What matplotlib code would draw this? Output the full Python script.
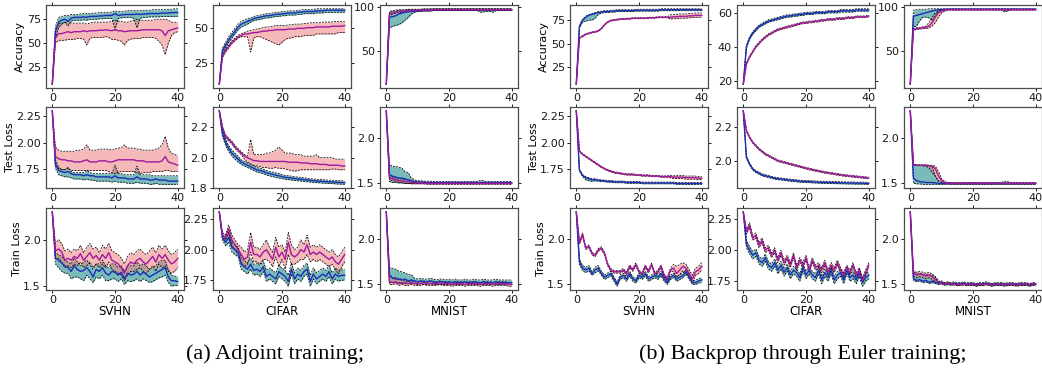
import matplotlib
matplotlib.use('Agg')
import matplotlib.pyplot as plt
from matplotlib.ticker import FormatStrFormatter

EPOCHS = list(range(41))

# ---------------- Adjoint training ----------------
# SVHN accuracy
A_SVHN_ACC_B = [7, 62, 72, 74, 75, 73, 76, 77, 77, 77, 77.5, 77, 78, 78, 78, 78.5, 78.5, 79, 79, 79, 81, 79, 79.5, 80, 80, 80, 80, 80.5, 80, 80.5, 80.5, 81, 81, 81, 81, 81.5, 81.5, 81.5, 82, 82, 82]
A_SVHN_ACC_B_LO = [7, 56, 66, 70, 72, 68, 73, 74, 74, 74, 74.5, 74, 75, 75, 75, 75.5, 75.5, 76, 76, 76, 64, 76, 76.5, 77, 77, 77, 76, 66, 76, 77, 77, 77.5, 77.5, 77.5, 77.5, 78, 78, 78, 78, 78, 78]
A_SVHN_ACC_B_HI = [7, 67, 77, 78, 79, 79, 80, 80, 80, 80.5, 81, 81, 81, 81.5, 81.5, 82, 82, 82, 82.5, 82.5, 84, 83, 83, 83.5, 84, 84, 84, 84, 84, 84.5, 84.5, 84.5, 85, 85, 85, 85, 85.5, 85.5, 85.5, 86, 86]
A_SVHN_ACC_M = [7, 55, 60, 60, 61, 62, 61, 62, 62, 62, 63, 62, 63, 63, 63, 63.5, 63.5, 64, 63.5, 63, 64, 63, 63, 62, 62.5, 63, 63, 63, 63.5, 64, 64, 64, 64, 64, 64, 63, 58, 63, 64, 65, 66]
A_SVHN_ACC_M_LO = [7, 50, 53, 53, 53, 54, 54, 54, 55, 55, 54, 48, 55, 56, 56, 56, 56, 57, 56, 54, 54, 53, 52, 48, 53, 54, 55, 55, 55, 56, 56, 56, 56, 55, 52, 48, 38, 50, 58, 61, 62]
A_SVHN_ACC_M_HI = [7, 62, 70, 71, 71, 73, 71, 71, 71, 71, 71, 70, 71, 72, 72, 72, 72, 72, 72, 73, 74, 73, 73, 72, 72, 73, 74, 75, 74, 74, 74, 74, 74, 75, 75, 75, 75, 74, 72, 72, 72]

# CIFAR accuracy
A_CIFAR_ACC_B = [10, 34, 38, 42, 45, 48, 51, 53, 54, 55, 56, 57, 57.5, 58, 58.5, 59, 59, 59.5, 60, 60, 60.5, 60.5, 61, 61, 61, 61.5, 61.5, 62, 62, 62, 62, 62.5, 62.5, 62.5, 63, 63, 63, 63, 63, 63, 63]
A_CIFAR_ACC_B_LO = [10, 32, 36, 40, 43, 46, 49, 51, 52, 53, 54.5, 55.5, 56, 56.5, 57, 57.5, 57.5, 58, 58.5, 58.5, 59, 59, 59.5, 59.5, 59.5, 60, 60, 60.5, 60.5, 60.5, 60.5, 61, 61, 61, 61.5, 61.5, 61.5, 61.5, 61.5, 61.5, 61.5]
A_CIFAR_ACC_B_HI = [10, 36, 40, 44, 47, 50, 53, 55, 56, 57, 57.5, 58.5, 59, 59.5, 60, 60.5, 60.5, 61, 61.5, 61.5, 62, 62, 62.5, 62.5, 62.5, 63, 63, 63.5, 63.5, 63.5, 63.5, 64, 64, 64, 64, 64, 64, 64, 64, 64, 64]
A_CIFAR_ACC_M = [10, 30, 34, 37, 40, 42, 44, 45, 46, 46, 46.5, 47, 47, 47.5, 48, 48, 48.5, 48.5, 49, 49, 49, 49, 49.5, 49.5, 49.5, 50, 50, 50, 50.5, 50.5, 50.5, 51, 51, 51, 51, 51, 51.5, 51.5, 51.5, 51.5, 52]
A_CIFAR_ACC_M_LO = [10, 29, 33, 36, 39, 41, 43, 44, 44, 44, 33, 43, 44, 44, 43, 42, 41, 40, 39, 38, 40, 42, 43, 43, 44, 44, 44, 45, 45, 45, 45, 46, 46, 46, 46, 46, 46, 46, 47, 47, 47]
A_CIFAR_ACC_M_HI = [10, 31, 35, 38, 41, 43, 45, 46, 47, 48, 48.5, 49, 49.5, 50, 50.5, 51, 51, 51.5, 52, 52, 52, 52, 52.5, 52.5, 53, 53, 53, 53.5, 53.5, 54, 54, 54, 54, 54.5, 54.5, 54.5, 54.5, 55, 55, 55, 55]

# MNIST accuracy
A_MNIST_ACC_B = [12, 88, 89, 90, 92, 93, 94, 94.5, 95, 95.5, 96, 96, 96.5, 96.5, 96.5] + [97.0] * 26
A_MNIST_ACC_B_LO = [12, 76, 78, 79, 80, 82, 85, 88, 92, 94, 95, 95, 95.5, 95.5, 95.5] + [96.0] * 15 + [94.0, 94.5, 95.0, 95.0, 94.0] + [96.0] * 6
A_MNIST_ACC_B_HI = [12, 95, 96, 96.5, 97, 97, 97, 97.5, 97.5, 97.5, 97.5, 97.5, 98, 98, 98] + [98.0] * 26
A_MNIST_ACC_M = [12, 92, 93, 94, 95, 95, 95.5, 96, 96, 96, 96, 96.5, 96.5, 96.5, 96.5] + [97.0] * 26
A_MNIST_ACC_M_LO = [12, 90, 92, 93, 94, 94, 94.5, 95, 95, 95, 95, 95.5, 95.5, 95.5, 95.5] + [96.0] * 26
A_MNIST_ACC_M_HI = [12, 94, 95, 95.5, 96, 96, 96.5, 97, 97, 97, 97, 97.5, 97.5, 97.5, 97.5] + [98.0] * 26

# SVHN test loss
A_SVHN_TEST_B = [2.30, 1.80, 1.74, 1.73, 1.72, 1.73, 1.71, 1.70, 1.70, 1.70, 1.69, 1.70, 1.69, 1.69, 1.68, 1.68, 1.68, 1.68, 1.68, 1.67, 1.69, 1.67, 1.67, 1.67, 1.66, 1.66, 1.66, 1.68, 1.66, 1.66, 1.66, 1.65, 1.65, 1.66, 1.65, 1.65, 1.65, 1.64, 1.64, 1.64, 1.64]
A_SVHN_TEST_B_LO = [2.30, 1.76, 1.70, 1.69, 1.68, 1.68, 1.67, 1.66, 1.66, 1.66, 1.65, 1.66, 1.65, 1.65, 1.64, 1.64, 1.64, 1.64, 1.64, 1.63, 1.64, 1.63, 1.63, 1.63, 1.62, 1.62, 1.62, 1.63, 1.62, 1.62, 1.62, 1.61, 1.61, 1.62, 1.61, 1.61, 1.61, 1.61, 1.61, 1.61, 1.61]
A_SVHN_TEST_B_HI = [2.30, 1.84, 1.77, 1.75, 1.74, 1.77, 1.73, 1.72, 1.72, 1.72, 1.72, 1.74, 1.72, 1.71, 1.71, 1.71, 1.71, 1.71, 1.71, 1.71, 1.79, 1.71, 1.71, 1.70, 1.70, 1.70, 1.70, 1.78, 1.70, 1.70, 1.70, 1.70, 1.69, 1.69, 1.69, 1.69, 1.69, 1.69, 1.69, 1.69, 1.69]
A_SVHN_TEST_M = [2.30, 1.87, 1.85, 1.84, 1.84, 1.83, 1.83, 1.82, 1.82, 1.82, 1.83, 1.84, 1.82, 1.82, 1.82, 1.83, 1.83, 1.83, 1.82, 1.82, 1.83, 1.84, 1.84, 1.84, 1.84, 1.84, 1.84, 1.83, 1.83, 1.83, 1.82, 1.82, 1.82, 1.82, 1.82, 1.83, 1.87, 1.82, 1.81, 1.80, 1.79]
A_SVHN_TEST_M_LO = [2.30, 1.78, 1.76, 1.75, 1.75, 1.76, 1.74, 1.74, 1.74, 1.74, 1.74, 1.74, 1.74, 1.74, 1.74, 1.74, 1.74, 1.74, 1.73, 1.72, 1.71, 1.72, 1.73, 1.73, 1.73, 1.73, 1.73, 1.72, 1.71, 1.72, 1.72, 1.72, 1.73, 1.73, 1.73, 1.73, 1.74, 1.74, 1.73, 1.73, 1.73]
A_SVHN_TEST_M_HI = [2.30, 1.96, 1.93, 1.92, 1.92, 1.92, 1.92, 1.92, 1.93, 1.93, 1.94, 1.98, 1.93, 1.93, 1.93, 1.94, 1.94, 1.94, 1.94, 1.93, 1.94, 1.95, 1.95, 1.98, 1.95, 1.95, 1.95, 1.94, 1.94, 1.93, 1.93, 1.93, 1.93, 1.94, 1.95, 1.98, 2.06, 1.95, 1.90, 1.89, 1.88]

# CIFAR test loss
A_CIFAR_TEST_B = [2.31, 2.16, 2.10, 2.06, 2.03, 2.01, 1.99, 1.97, 1.96, 1.95, 1.94, 1.93, 1.92, 1.915, 1.91, 1.90, 1.895, 1.89, 1.885, 1.88, 1.875, 1.87, 1.868, 1.865, 1.862, 1.86, 1.858, 1.855, 1.853, 1.85, 1.848, 1.846, 1.845, 1.843, 1.842, 1.84, 1.84, 1.838, 1.837, 1.836, 1.835]
A_CIFAR_TEST_B_LO = [2.31, 2.14, 2.08, 2.04, 2.01, 1.99, 1.97, 1.955, 1.945, 1.935, 1.925, 1.915, 1.905, 1.90, 1.895, 1.885, 1.88, 1.875, 1.87, 1.865, 1.862, 1.857, 1.855, 1.852, 1.85, 1.848, 1.846, 1.843, 1.841, 1.839, 1.837, 1.835, 1.834, 1.832, 1.831, 1.829, 1.829, 1.827, 1.826, 1.825, 1.824]
A_CIFAR_TEST_B_HI = [2.31, 2.18, 2.12, 2.08, 2.05, 2.03, 2.01, 1.985, 1.975, 1.965, 1.955, 1.945, 1.935, 1.93, 1.925, 1.915, 1.91, 1.905, 1.90, 1.895, 1.888, 1.883, 1.881, 1.878, 1.874, 1.872, 1.87, 1.867, 1.865, 1.861, 1.859, 1.857, 1.856, 1.854, 1.853, 1.851, 1.851, 1.849, 1.848, 1.847, 1.846]
A_CIFAR_TEST_M = [2.31, 2.20, 2.14, 2.12, 2.10, 2.07, 2.05, 2.03, 2.01, 2.00, 1.99, 1.98, 1.98, 1.975, 1.975, 1.975, 1.975, 1.975, 1.975, 1.975, 1.975, 1.975, 1.97, 1.97, 1.97, 1.97, 1.965, 1.965, 1.965, 1.96, 1.96, 1.96, 1.955, 1.955, 1.955, 1.95, 1.95, 1.95, 1.95, 1.945, 1.945]
A_CIFAR_TEST_M_LO = [2.31, 2.19, 2.13, 2.11, 2.09, 2.06, 2.04, 2.02, 1.99, 1.97, 1.96, 1.95, 1.945, 1.94, 1.935, 1.935, 1.93, 1.93, 1.935, 1.93, 1.93, 1.925, 1.92, 1.915, 1.91, 1.915, 1.92, 1.92, 1.92, 1.92, 1.92, 1.92, 1.92, 1.92, 1.92, 1.92, 1.925, 1.925, 1.92, 1.92, 1.92]
A_CIFAR_TEST_M_HI = [2.31, 2.21, 2.15, 2.13, 2.11, 2.08, 2.06, 2.04, 2.02, 2.01, 2.12, 2.02, 2.02, 2.02, 2.02, 2.03, 2.03, 2.04, 2.05, 2.07, 2.05, 2.03, 2.03, 2.03, 2.02, 2.02, 2.02, 2.01, 2.01, 2.01, 2.01, 2.02, 2.00, 2.00, 2.00, 2.00, 2.00, 1.99, 1.99, 1.99, 1.99]

# MNIST test loss
A_MNIST_TEST_B = [2.30, 1.59, 1.57, 1.56, 1.55, 1.55, 1.54, 1.53, 1.52, 1.51, 1.505, 1.505, 1.505, 1.50, 1.50] + [1.50] * 26
A_MNIST_TEST_B_LO = [2.30, 1.51, 1.50, 1.50, 1.495, 1.495, 1.49, 1.49, 1.49, 1.49, 1.49, 1.49, 1.49, 1.49, 1.49] + [1.49] * 26
A_MNIST_TEST_B_HI = [2.30, 1.70, 1.68, 1.68, 1.67, 1.66, 1.62, 1.61, 1.55, 1.53, 1.52, 1.52, 1.515, 1.515, 1.515] + [1.51] * 15 + [1.525, 1.52] + [1.51] * 9
A_MNIST_TEST_M = [2.30, 1.56, 1.54, 1.53, 1.52, 1.52, 1.51, 1.51, 1.50, 1.50, 1.495, 1.495, 1.495, 1.49, 1.49] + [1.49] * 26
A_MNIST_TEST_M_LO = [2.30, 1.53, 1.52, 1.51, 1.50, 1.50, 1.49, 1.49, 1.485, 1.485, 1.485, 1.485, 1.485, 1.48, 1.48] + [1.48] * 26
A_MNIST_TEST_M_HI = [2.30, 1.58, 1.56, 1.55, 1.54, 1.54, 1.53, 1.53, 1.52, 1.51, 1.505, 1.505, 1.505, 1.50, 1.50] + [1.50] * 26

# SVHN train loss
A_SVHN_TRAIN_B = [2.30, 1.80, 1.78, 1.75, 1.72, 1.70, 1.66, 1.72, 1.68, 1.66, 1.67, 1.70, 1.66, 1.60, 1.68, 1.66, 1.70, 1.64, 1.62, 1.66, 1.65, 1.62, 1.65, 1.58, 1.64, 1.62, 1.63, 1.66, 1.62, 1.65, 1.63, 1.60, 1.62, 1.64, 1.66, 1.68, 1.70, 1.60, 1.56, 1.56, 1.55]
A_SVHN_TRAIN_B_LO = [2.30, 1.74, 1.70, 1.66, 1.64, 1.64, 1.58, 1.60, 1.60, 1.58, 1.56, 1.62, 1.58, 1.54, 1.60, 1.58, 1.62, 1.56, 1.56, 1.58, 1.58, 1.55, 1.58, 1.52, 1.56, 1.55, 1.56, 1.58, 1.55, 1.58, 1.56, 1.54, 1.55, 1.57, 1.59, 1.60, 1.62, 1.54, 1.50, 1.51, 1.51]
A_SVHN_TRAIN_B_HI = [2.30, 1.86, 1.84, 1.82, 1.78, 1.76, 1.74, 1.80, 1.76, 1.72, 1.76, 1.78, 1.74, 1.68, 1.74, 1.74, 1.78, 1.72, 1.70, 1.74, 1.74, 1.70, 1.72, 1.66, 1.72, 1.72, 1.72, 1.76, 1.72, 1.74, 1.72, 1.68, 1.70, 1.72, 1.76, 1.78, 1.78, 1.68, 1.62, 1.61, 1.60]
A_SVHN_TRAIN_M = [2.30, 1.88, 1.90, 1.87, 1.78, 1.80, 1.78, 1.82, 1.80, 1.85, 1.78, 1.82, 1.86, 1.80, 1.83, 1.78, 1.84, 1.80, 1.86, 1.78, 1.76, 1.74, 1.70, 1.64, 1.72, 1.76, 1.74, 1.78, 1.80, 1.76, 1.74, 1.78, 1.82, 1.76, 1.84, 1.80, 1.84, 1.78, 1.74, 1.76, 1.80]
A_SVHN_TRAIN_M_LO = [2.30, 1.80, 1.80, 1.76, 1.70, 1.72, 1.70, 1.74, 1.72, 1.76, 1.70, 1.72, 1.76, 1.70, 1.74, 1.70, 1.74, 1.70, 1.76, 1.68, 1.66, 1.64, 1.62, 1.56, 1.62, 1.66, 1.66, 1.68, 1.70, 1.66, 1.64, 1.68, 1.72, 1.66, 1.74, 1.70, 1.72, 1.66, 1.64, 1.66, 1.70]
A_SVHN_TRAIN_M_HI = [2.30, 1.96, 2.00, 1.96, 1.88, 1.90, 1.86, 1.90, 1.88, 1.94, 1.86, 1.92, 1.96, 1.90, 1.92, 1.86, 1.94, 1.90, 1.96, 1.88, 1.86, 1.84, 1.80, 1.74, 1.82, 1.86, 1.84, 1.88, 1.90, 1.86, 1.84, 1.88, 1.92, 1.86, 1.94, 1.90, 1.94, 1.88, 1.84, 1.86, 1.90]

# CIFAR train loss
A_CIFAR_TRAIN_B = [2.31, 2.10, 2.06, 2.10, 2.02, 2.00, 1.98, 1.88, 1.86, 1.84, 1.88, 1.83, 1.84, 1.82, 1.86, 1.78, 1.80, 1.78, 1.76, 1.82, 1.80, 1.78, 1.74, 1.84, 1.76, 1.80, 1.78, 1.82, 1.84, 1.74, 1.80, 1.76, 1.78, 1.80, 1.78, 1.82, 1.76, 1.80, 1.78, 1.79, 1.79]
A_CIFAR_TRAIN_B_LO = [2.31, 2.08, 2.03, 2.06, 1.98, 1.96, 1.94, 1.84, 1.82, 1.80, 1.84, 1.79, 1.80, 1.78, 1.82, 1.74, 1.76, 1.74, 1.72, 1.78, 1.76, 1.74, 1.70, 1.80, 1.72, 1.76, 1.74, 1.78, 1.80, 1.70, 1.76, 1.72, 1.74, 1.76, 1.74, 1.78, 1.72, 1.76, 1.74, 1.75, 1.75]
A_CIFAR_TRAIN_B_HI = [2.31, 2.12, 2.09, 2.13, 2.06, 2.04, 2.02, 1.93, 1.91, 1.89, 1.93, 1.88, 1.89, 1.87, 1.91, 1.83, 1.85, 1.83, 1.81, 1.87, 1.85, 1.83, 1.79, 1.89, 1.81, 1.85, 1.83, 1.87, 1.89, 1.79, 1.85, 1.81, 1.83, 1.85, 1.83, 1.87, 1.81, 1.85, 1.83, 1.84, 1.84]
A_CIFAR_TRAIN_M = [2.31, 2.12, 2.10, 2.17, 2.08, 2.04, 2.00, 1.96, 1.92, 1.94, 2.06, 1.96, 1.96, 1.94, 1.98, 2.00, 1.96, 1.92, 2.02, 1.94, 1.98, 1.92, 2.06, 1.96, 1.94, 1.96, 2.00, 1.98, 2.04, 1.96, 1.98, 1.96, 1.98, 1.96, 1.94, 1.92, 1.94, 1.90, 1.88, 1.92, 1.96]
A_CIFAR_TRAIN_M_LO = [2.31, 2.10, 2.08, 2.14, 2.04, 2.00, 1.96, 1.90, 1.86, 1.88, 1.98, 1.90, 1.90, 1.88, 1.92, 1.92, 1.90, 1.86, 1.94, 1.86, 1.92, 1.84, 1.96, 1.88, 1.88, 1.90, 1.92, 1.92, 1.96, 1.90, 1.92, 1.90, 1.92, 1.90, 1.88, 1.86, 1.88, 1.84, 1.80, 1.86, 1.90]
A_CIFAR_TRAIN_M_HI = [2.31, 2.14, 2.12, 2.20, 2.12, 2.08, 2.04, 2.02, 1.98, 2.00, 2.14, 2.02, 2.02, 2.00, 2.04, 2.08, 2.02, 1.98, 2.10, 2.02, 2.04, 1.98, 2.14, 2.04, 2.00, 2.02, 2.08, 2.04, 2.12, 2.02, 2.04, 2.02, 2.04, 2.02, 2.00, 1.98, 2.00, 1.96, 1.94, 1.98, 2.02]

# MNIST train loss
A_MNIST_TRAIN_B = [2.30, 1.60, 1.56, 1.55, 1.55, 1.54, 1.55, 1.53, 1.54, 1.53, 1.52, 1.53, 1.52, 1.52, 1.53, 1.52, 1.51, 1.52, 1.52, 1.51, 1.52, 1.51, 1.52, 1.51, 1.51, 1.52, 1.51, 1.51, 1.52, 1.51, 1.51, 1.52, 1.51, 1.51, 1.51, 1.52, 1.51, 1.51, 1.51, 1.51, 1.51]
A_MNIST_TRAIN_B_LO = [2.30, 1.52, 1.51, 1.51, 1.51, 1.50, 1.51, 1.50, 1.50, 1.50, 1.49, 1.50, 1.49, 1.49, 1.50, 1.49, 1.49, 1.49, 1.49, 1.49, 1.49, 1.49, 1.49, 1.49, 1.49, 1.49, 1.49, 1.49, 1.49, 1.49, 1.49, 1.49, 1.49, 1.49, 1.49, 1.49, 1.49, 1.49, 1.49, 1.49, 1.49]
A_MNIST_TRAIN_B_HI = [2.30, 1.68, 1.67, 1.66, 1.64, 1.63, 1.62, 1.60, 1.60, 1.56, 1.55, 1.56, 1.55, 1.55, 1.56, 1.55, 1.54, 1.55, 1.55, 1.54, 1.55, 1.54, 1.55, 1.54, 1.54, 1.55, 1.54, 1.54, 1.55, 1.54, 1.54, 1.55, 1.54, 1.54, 1.54, 1.55, 1.54, 1.54, 1.54, 1.54, 1.54]
A_MNIST_TRAIN_M = [2.30, 1.52, 1.51, 1.52, 1.50, 1.51, 1.50, 1.50, 1.51, 1.50, 1.50, 1.50, 1.51, 1.50, 1.50, 1.50, 1.50, 1.51, 1.50, 1.50, 1.50, 1.49, 1.50, 1.50, 1.50, 1.49, 1.50, 1.50, 1.50, 1.50, 1.49, 1.50, 1.50, 1.50, 1.49, 1.50, 1.50, 1.50, 1.50, 1.49, 1.49]
A_MNIST_TRAIN_M_LO = [2.30, 1.49, 1.49, 1.50, 1.48, 1.49, 1.48, 1.48, 1.49, 1.48, 1.48, 1.48, 1.49, 1.48, 1.48, 1.48, 1.48, 1.49, 1.48, 1.48, 1.48, 1.47, 1.48, 1.48, 1.48, 1.47, 1.48, 1.48, 1.48, 1.48, 1.47, 1.48, 1.48, 1.48, 1.47, 1.48, 1.48, 1.48, 1.48, 1.47, 1.47]
A_MNIST_TRAIN_M_HI = [2.30, 1.58, 1.56, 1.57, 1.55, 1.55, 1.53, 1.52, 1.53, 1.52, 1.52, 1.52, 1.53, 1.52, 1.52, 1.52, 1.52, 1.53, 1.52, 1.52, 1.52, 1.51, 1.52, 1.52, 1.52, 1.51, 1.52, 1.52, 1.52, 1.52, 1.51, 1.52, 1.52, 1.52, 1.51, 1.52, 1.52, 1.52, 1.52, 1.51, 1.51]

# ---------------- Backprop through Euler ----------------
E_SVHN_ACC_B = [7, 68, 75, 78, 80, 81, 82, 83, 83.5, 84, 84, 84.5, 84.5, 85, 85, 85, 85, 85, 85, 85.5, 85.5, 85.5, 85.5, 85.5, 85.5, 85.5, 85.5, 86, 86, 86, 86, 86, 86, 86, 86, 86, 86, 86, 86, 86, 86]
E_SVHN_ACC_B_LO = [7, 67, 73, 74, 75, 75, 77, 81, 82.5, 83, 83, 83.5, 83.5, 84, 84, 84, 84, 84, 84, 84.5, 84.5, 84.5, 84.5, 84.5, 84.5, 84.5, 84.5, 85, 85, 85, 85, 85, 85, 85, 85, 85, 85, 85, 85, 85, 85]
E_SVHN_ACC_B_HI = [7, 69, 76, 79, 81, 82, 83, 84, 84.5, 85, 85, 85.5, 85.5, 86, 86, 86, 86, 86, 86, 86.5, 86.5, 86.5, 86.5, 86.5, 86.5, 86.5, 86.5, 87, 87, 87, 87, 87, 87, 87, 87, 87, 87, 87, 87, 87, 87]
E_SVHN_ACC_M = [7, 56, 58, 60, 61, 62, 62.5, 63.5, 66, 70, 73, 74.5, 75, 75.5, 76, 76, 76.5, 76.5, 77, 77, 77, 77, 77, 77.5, 77.5, 77.5, 78, 78, 78, 78, 78, 78.5, 78.5, 79, 79, 79, 79.5, 79.5, 80, 80, 80]
E_SVHN_ACC_M_LO = [7, 55.5, 57.5, 59.5, 60.5, 61.5, 62, 63, 65.5, 69.5, 72.5, 74, 74.5, 75, 75.5, 75.5, 76, 76, 76.5, 76.5, 76.5, 76.5, 76.5, 77, 77, 77, 77.5, 77.5, 77.5, 77.5, 76, 76.5, 76.5, 77, 77, 77, 77.5, 77.5, 78, 78, 78]
E_SVHN_ACC_M_HI = [7, 56.5, 58.5, 60.5, 61.5, 62.5, 63, 64, 66.5, 70.5, 73.5, 75, 75.5, 76, 76.5, 76.5, 77, 77, 77.5, 77.5, 77.5, 77.5, 77.5, 78, 78, 78, 78.5, 78.5, 78.5, 78.5, 80.5, 81, 81, 81.5, 81.5, 81.5, 82, 82, 82.5, 82.5, 82.5]

E_CIFAR_ACC_B = [18, 40, 45, 48, 50, 52, 53, 54, 55, 55.5, 56, 56.5, 57, 57.5, 58, 58, 58.5, 58.5, 59, 59, 59.5, 59.5, 59.5, 60, 60, 60, 60, 60.5, 60.5, 60.5, 60.5, 61, 61, 61, 61, 61, 61.5, 61.5, 61.5, 61.5, 61.5]
E_CIFAR_ACC_B_LO = [18, 39.3, 44.3, 47.3, 49.3, 51.3, 52.3, 53.3, 54.3, 54.8, 55.3, 55.8, 56.3, 56.8, 57.3, 57.3, 57.8, 57.8, 58.3, 58.3, 58.8, 58.8, 58.8, 59.3, 59.3, 59.3, 59.3, 59.8, 59.8, 59.8, 59.8, 60.3, 60.3, 60.3, 60.3, 60.3, 60.8, 60.8, 60.8, 60.8, 60.8]
E_CIFAR_ACC_B_HI = [18, 40.7, 45.7, 48.7, 50.7, 52.7, 53.7, 54.7, 55.7, 56.2, 56.7, 57.2, 57.7, 58.2, 58.7, 58.7, 59.2, 59.2, 59.7, 59.7, 60.2, 60.2, 60.2, 60.7, 60.7, 60.7, 60.7, 61.2, 61.2, 61.2, 61.2, 61.7, 61.7, 61.7, 61.7, 61.7, 62.2, 62.2, 62.2, 62.2, 62.2]
E_CIFAR_ACC_M = [18, 30, 34, 37, 40, 42, 44, 45.5, 47, 48, 49, 50, 50.5, 51, 51.5, 52, 52.5, 53, 53.5, 54, 54, 54.5, 54.5, 55, 55, 55.5, 55.5, 56, 56, 56, 56.5, 56.5, 56.5, 57, 57, 57, 57.5, 57.5, 57.5, 57.5, 58]
E_CIFAR_ACC_M_LO = [18, 29.5, 33.5, 36.5, 39.5, 41.5, 43.5, 45, 46.5, 47.5, 48.5, 49.5, 50, 50.5, 51, 51.5, 52, 52.5, 53, 53.5, 53.5, 54, 54, 54.5, 54.5, 55, 55, 55.5, 55.5, 55.5, 56, 56, 56, 56.5, 56.5, 56.5, 57, 57, 57, 57, 57.5]
E_CIFAR_ACC_M_HI = [18, 30.5, 34.5, 37.5, 40.5, 42.5, 44.5, 46, 47.5, 48.5, 49.5, 50.5, 51, 51.5, 52, 52.5, 53, 53.5, 54, 54.5, 54.5, 55, 55, 55.5, 55.5, 56, 56, 56.5, 56.5, 56.5, 57, 57, 57, 57.5, 57.5, 57.5, 58, 58, 58, 58, 58.5]

E_MNIST_ACC_B = [12, 89, 90, 91, 92, 93, 94, 95, 96, 96.5, 96.5, 97, 97, 97, 97] + [97.0] * 26
E_MNIST_ACC_B_LO = [12, 77, 78, 84, 88, 88, 87, 84, 90, 95, 96, 96.5, 96.5, 96.5, 96.5] + [96.5] * 15 + [94.0, 95.0] + [96.5] * 9
E_MNIST_ACC_B_HI = [12, 96, 96.5, 97, 97, 97, 97.5, 97.5, 97.5, 97.5, 97.5, 97.5, 97.5, 97.5, 97.5] + [97.5] * 26
E_MNIST_ACC_M = [12, 74, 75, 75.5, 76, 76.5, 78, 82, 88, 93, 95, 96, 96.5, 96.5, 96.5] + [96.5] * 26
E_MNIST_ACC_M_LO = [12, 73, 74, 74.5, 75, 75, 76, 78, 82, 88, 93, 95, 96, 96, 96] + [96.0] * 26
E_MNIST_ACC_M_HI = [12, 75, 76, 76.5, 77, 78, 82, 88, 93, 95, 96, 96.5, 97, 97, 97] + [97.0] * 26

E_SVHN_TEST_B = [2.30, 1.74, 1.69, 1.67, 1.66, 1.65, 1.65, 1.645, 1.64, 1.64, 1.635, 1.635, 1.63, 1.63, 1.63, 1.63, 1.625, 1.625, 1.625, 1.625, 1.625, 1.62, 1.62, 1.62, 1.62, 1.62, 1.62, 1.62, 1.62, 1.62, 1.62, 1.62, 1.615, 1.615, 1.615, 1.615, 1.615, 1.615, 1.615, 1.615, 1.615]
E_SVHN_TEST_B_LO = [2.30, 1.73, 1.68, 1.65, 1.64, 1.635, 1.64, 1.637, 1.632, 1.632, 1.627, 1.627, 1.622, 1.622, 1.622, 1.622, 1.617, 1.617, 1.617, 1.617, 1.617, 1.612, 1.612, 1.612, 1.612, 1.612, 1.612, 1.612, 1.612, 1.612, 1.612, 1.612, 1.607, 1.607, 1.607, 1.607, 1.607, 1.607, 1.607, 1.607, 1.607]
E_SVHN_TEST_B_HI = [2.30, 1.75, 1.70, 1.68, 1.67, 1.66, 1.66, 1.653, 1.648, 1.648, 1.643, 1.643, 1.638, 1.638, 1.638, 1.638, 1.633, 1.633, 1.633, 1.633, 1.633, 1.628, 1.628, 1.628, 1.628, 1.628, 1.628, 1.628, 1.628, 1.628, 1.628, 1.628, 1.623, 1.623, 1.623, 1.623, 1.623, 1.623, 1.623, 1.623, 1.623]
E_SVHN_TEST_M = [2.30, 1.92, 1.89, 1.87, 1.85, 1.83, 1.81, 1.79, 1.77, 1.755, 1.74, 1.73, 1.72, 1.715, 1.71, 1.705, 1.70, 1.70, 1.70, 1.695, 1.695, 1.69, 1.69, 1.69, 1.685, 1.685, 1.685, 1.68, 1.68, 1.68, 1.68, 1.675, 1.675, 1.675, 1.675, 1.67, 1.67, 1.67, 1.67, 1.665, 1.665]
E_SVHN_TEST_M_LO = [2.30, 1.914, 1.884, 1.864, 1.844, 1.824, 1.804, 1.784, 1.764, 1.749, 1.734, 1.724, 1.714, 1.709, 1.704, 1.699, 1.694, 1.694, 1.694, 1.689, 1.689, 1.684, 1.684, 1.684, 1.679, 1.679, 1.679, 1.674, 1.674, 1.674, 1.668, 1.662, 1.662, 1.661, 1.66, 1.656, 1.655, 1.655, 1.655, 1.65, 1.65]
E_SVHN_TEST_M_HI = [2.30, 1.926, 1.896, 1.876, 1.856, 1.836, 1.816, 1.796, 1.776, 1.761, 1.746, 1.736, 1.726, 1.721, 1.716, 1.711, 1.706, 1.706, 1.706, 1.701, 1.701, 1.696, 1.696, 1.696, 1.691, 1.691, 1.691, 1.686, 1.686, 1.686, 1.692, 1.688, 1.688, 1.689, 1.69, 1.684, 1.685, 1.685, 1.685, 1.68, 1.68]

E_CIFAR_TEST_B = [2.30, 2.02, 1.98, 1.95, 1.935, 1.925, 1.915, 1.91, 1.905, 1.90, 1.895, 1.892, 1.89, 1.888, 1.885, 1.883, 1.881, 1.879, 1.877, 1.876, 1.875, 1.874, 1.873, 1.872, 1.871, 1.87, 1.87, 1.869, 1.869, 1.868, 1.868, 1.867, 1.867, 1.866, 1.866, 1.866, 1.865, 1.865, 1.865, 1.864, 1.864]
E_CIFAR_TEST_B_LO = [2.30, 2.013, 1.974, 1.944, 1.929, 1.919, 1.909, 1.904, 1.899, 1.894, 1.889, 1.886, 1.884, 1.882, 1.879, 1.877, 1.875, 1.873, 1.871, 1.870, 1.869, 1.868, 1.867, 1.866, 1.865, 1.864, 1.864, 1.863, 1.863, 1.862, 1.862, 1.861, 1.861, 1.860, 1.860, 1.860, 1.859, 1.859, 1.859, 1.858, 1.858]
E_CIFAR_TEST_B_HI = [2.30, 2.027, 1.986, 1.956, 1.941, 1.931, 1.921, 1.916, 1.911, 1.906, 1.901, 1.898, 1.896, 1.894, 1.891, 1.889, 1.887, 1.885, 1.883, 1.882, 1.881, 1.880, 1.879, 1.878, 1.877, 1.876, 1.876, 1.875, 1.875, 1.874, 1.874, 1.873, 1.873, 1.872, 1.872, 1.872, 1.871, 1.871, 1.871, 1.870, 1.870]
E_CIFAR_TEST_M = [2.30, 2.18, 2.14, 2.11, 2.09, 2.07, 2.055, 2.04, 2.03, 2.02, 2.01, 2.00, 1.995, 1.99, 1.985, 1.98, 1.975, 1.97, 1.965, 1.96, 1.955, 1.95, 1.946, 1.942, 1.938, 1.934, 1.93, 1.927, 1.924, 1.921, 1.918, 1.915, 1.912, 1.91, 1.908, 1.906, 1.904, 1.902, 1.90, 1.898, 1.896]
E_CIFAR_TEST_M_LO = [2.30, 2.175, 2.135, 2.105, 2.085, 2.065, 2.05, 2.035, 2.025, 2.015, 2.005, 1.995, 1.99, 1.985, 1.98, 1.975, 1.97, 1.965, 1.96, 1.955, 1.95, 1.945, 1.941, 1.937, 1.933, 1.929, 1.925, 1.922, 1.919, 1.916, 1.913, 1.91, 1.907, 1.905, 1.903, 1.901, 1.899, 1.897, 1.895, 1.893, 1.891]
E_CIFAR_TEST_M_HI = [2.30, 2.185, 2.145, 2.115, 2.095, 2.075, 2.06, 2.045, 2.035, 2.025, 2.015, 2.005, 2.0, 1.995, 1.99, 1.985, 1.98, 1.975, 1.97, 1.965, 1.96, 1.955, 1.951, 1.947, 1.943, 1.939, 1.935, 1.932, 1.929, 1.926, 1.923, 1.92, 1.917, 1.915, 1.913, 1.911, 1.909, 1.907, 1.905, 1.903, 1.901]

E_MNIST_TEST_B = [2.30, 1.56, 1.53, 1.52, 1.515, 1.51, 1.51, 1.51, 1.505, 1.50, 1.50, 1.50, 1.50, 1.50, 1.50] + [1.50] * 26
E_MNIST_TEST_B_LO = [2.30, 1.50, 1.495, 1.495, 1.49, 1.49, 1.49, 1.49, 1.49, 1.49, 1.49, 1.49, 1.49, 1.49, 1.49] + [1.49] * 26
E_MNIST_TEST_B_HI = [2.30, 1.70, 1.70, 1.70, 1.69, 1.69, 1.69, 1.68, 1.58, 1.52, 1.51, 1.51, 1.51, 1.51, 1.51] + [1.51] * 15 + [1.525, 1.52] + [1.51] * 9
E_MNIST_TEST_M = [2.30, 1.71, 1.70, 1.70, 1.70, 1.70, 1.695, 1.69, 1.66, 1.58, 1.53, 1.51, 1.505, 1.50, 1.50] + [1.50] * 26
E_MNIST_TEST_M_LO = [2.30, 1.705, 1.695, 1.695, 1.695, 1.69, 1.67, 1.62, 1.58, 1.53, 1.51, 1.50, 1.50, 1.495, 1.495] + [1.495] * 26
E_MNIST_TEST_M_HI = [2.30, 1.715, 1.705, 1.705, 1.705, 1.705, 1.70, 1.70, 1.69, 1.63, 1.55, 1.52, 1.51, 1.505, 1.505] + [1.505] * 26

E_SVHN_TRAIN_B = [2.30, 1.75, 1.68, 1.66, 1.68, 1.62, 1.66, 1.68, 1.62, 1.58, 1.60, 1.62, 1.56, 1.50, 1.58, 1.60, 1.56, 1.62, 1.56, 1.54, 1.60, 1.58, 1.62, 1.56, 1.58, 1.60, 1.58, 1.62, 1.56, 1.52, 1.58, 1.60, 1.56, 1.58, 1.60, 1.64, 1.58, 1.52, 1.52, 1.54, 1.55]
E_SVHN_TRAIN_B_LO = [2.30, 1.72, 1.65, 1.63, 1.65, 1.60, 1.63, 1.65, 1.60, 1.555, 1.575, 1.595, 1.535, 1.48, 1.555, 1.575, 1.535, 1.595, 1.535, 1.515, 1.575, 1.555, 1.595, 1.535, 1.555, 1.575, 1.555, 1.595, 1.535, 1.50, 1.555, 1.575, 1.535, 1.555, 1.575, 1.615, 1.555, 1.50, 1.50, 1.515, 1.525]
E_SVHN_TRAIN_B_HI = [2.30, 1.78, 1.71, 1.69, 1.71, 1.645, 1.69, 1.71, 1.645, 1.605, 1.625, 1.645, 1.585, 1.525, 1.605, 1.625, 1.585, 1.645, 1.585, 1.565, 1.625, 1.605, 1.645, 1.585, 1.605, 1.625, 1.605, 1.645, 1.585, 1.545, 1.605, 1.625, 1.585, 1.605, 1.625, 1.665, 1.605, 1.545, 1.545, 1.565, 1.575]
E_SVHN_TRAIN_M = [2.30, 1.96, 2.05, 1.90, 1.92, 1.84, 1.82, 1.88, 1.90, 1.84, 1.72, 1.66, 1.64, 1.64, 1.64, 1.66, 1.62, 1.70, 1.66, 1.72, 1.64, 1.62, 1.70, 1.64, 1.72, 1.62, 1.64, 1.70, 1.60, 1.56, 1.66, 1.68, 1.62, 1.66, 1.70, 1.68, 1.62, 1.56, 1.64, 1.66, 1.70]
E_SVHN_TRAIN_M_LO = [2.30, 1.945, 2.035, 1.885, 1.905, 1.825, 1.805, 1.865, 1.885, 1.825, 1.705, 1.645, 1.625, 1.625, 1.625, 1.645, 1.605, 1.685, 1.645, 1.705, 1.625, 1.605, 1.685, 1.625, 1.705, 1.605, 1.625, 1.685, 1.585, 1.545, 1.645, 1.64, 1.58, 1.61, 1.65, 1.63, 1.58, 1.52, 1.60, 1.62, 1.66]
E_SVHN_TRAIN_M_HI = [2.30, 1.975, 2.065, 1.915, 1.935, 1.855, 1.835, 1.895, 1.915, 1.855, 1.735, 1.675, 1.655, 1.655, 1.655, 1.675, 1.635, 1.715, 1.675, 1.735, 1.655, 1.635, 1.715, 1.655, 1.735, 1.635, 1.655, 1.715, 1.615, 1.575, 1.675, 1.72, 1.70, 1.72, 1.74, 1.72, 1.66, 1.60, 1.68, 1.70, 1.74]

E_CIFAR_TRAIN_B = [2.31, 2.05, 2.00, 1.96, 1.98, 1.92, 1.90, 1.94, 1.88, 1.86, 1.90, 1.84, 1.88, 1.82, 1.86, 1.80, 1.84, 1.82, 1.78, 1.86, 1.80, 1.84, 1.80, 1.78, 1.84, 1.76, 1.82, 1.78, 1.84, 1.76, 1.80, 1.82, 1.76, 1.84, 1.78, 1.80, 1.76, 1.82, 1.74, 1.78, 1.80]
E_CIFAR_TRAIN_B_LO = [2.31, 2.02, 1.97, 1.93, 1.95, 1.89, 1.87, 1.91, 1.85, 1.83, 1.87, 1.81, 1.85, 1.79, 1.83, 1.77, 1.81, 1.79, 1.75, 1.83, 1.77, 1.81, 1.77, 1.75, 1.81, 1.73, 1.79, 1.75, 1.81, 1.73, 1.77, 1.79, 1.73, 1.81, 1.75, 1.77, 1.73, 1.79, 1.71, 1.75, 1.77]
E_CIFAR_TRAIN_B_HI = [2.31, 2.08, 2.03, 1.99, 2.01, 1.95, 1.93, 1.97, 1.91, 1.89, 1.93, 1.87, 1.91, 1.85, 1.89, 1.83, 1.87, 1.85, 1.81, 1.89, 1.83, 1.87, 1.83, 1.81, 1.87, 1.79, 1.85, 1.81, 1.87, 1.79, 1.83, 1.85, 1.79, 1.87, 1.81, 1.83, 1.79, 1.85, 1.77, 1.81, 1.83]
E_CIFAR_TRAIN_M = [2.31, 2.15, 2.20, 2.10, 2.12, 2.04, 2.08, 2.00, 2.02, 1.96, 2.00, 1.92, 1.98, 1.90, 1.94, 1.88, 1.96, 1.86, 1.92, 1.88, 1.94, 1.84, 1.92, 1.86, 1.88, 1.84, 1.90, 1.82, 1.88, 1.84, 1.90, 1.84, 1.80, 1.86, 1.82, 1.88, 1.80, 1.84, 1.76, 1.82, 1.88]
E_CIFAR_TRAIN_M_LO = [2.31, 2.13, 2.18, 2.08, 2.10, 2.02, 2.06, 1.98, 2.00, 1.94, 1.98, 1.90, 1.96, 1.88, 1.92, 1.86, 1.94, 1.84, 1.90, 1.86, 1.92, 1.82, 1.90, 1.84, 1.86, 1.82, 1.88, 1.80, 1.86, 1.82, 1.88, 1.82, 1.78, 1.84, 1.80, 1.86, 1.78, 1.82, 1.74, 1.80, 1.86]
E_CIFAR_TRAIN_M_HI = [2.31, 2.17, 2.22, 2.12, 2.14, 2.06, 2.10, 2.02, 2.04, 1.98, 2.02, 1.94, 2.00, 1.92, 1.96, 1.90, 1.98, 1.88, 1.94, 1.90, 1.96, 1.86, 1.94, 1.88, 1.90, 1.86, 1.92, 1.84, 1.90, 1.86, 1.92, 1.86, 1.82, 1.88, 1.84, 1.90, 1.82, 1.86, 1.78, 1.84, 1.90]

E_MNIST_TRAIN_B = [2.30, 1.56, 1.54, 1.55, 1.53, 1.54, 1.52, 1.53, 1.52, 1.51, 1.52, 1.50, 1.51, 1.50, 1.51, 1.50, 1.50, 1.51, 1.50, 1.50, 1.50, 1.49, 1.50, 1.50, 1.51, 1.50, 1.49, 1.50, 1.50, 1.50, 1.49, 1.50, 1.50, 1.50, 1.49, 1.50, 1.50, 1.50, 1.49, 1.50, 1.50]
E_MNIST_TRAIN_B_LO = [2.30, 1.54, 1.525, 1.535, 1.515, 1.525, 1.505, 1.515, 1.505, 1.495, 1.505, 1.485, 1.495, 1.485, 1.495, 1.485, 1.485, 1.495, 1.485, 1.485, 1.485, 1.475, 1.485, 1.485, 1.495, 1.485, 1.475, 1.485, 1.485, 1.485, 1.475, 1.485, 1.485, 1.485, 1.475, 1.485, 1.485, 1.485, 1.475, 1.485, 1.485]
E_MNIST_TRAIN_B_HI = [2.30, 1.63, 1.62, 1.62, 1.61, 1.61, 1.60, 1.60, 1.58, 1.525, 1.535, 1.515, 1.525, 1.515, 1.525, 1.515, 1.515, 1.525, 1.515, 1.515, 1.515, 1.505, 1.515, 1.515, 1.525, 1.515, 1.505, 1.515, 1.515, 1.515, 1.505, 1.515, 1.515, 1.515, 1.505, 1.515, 1.515, 1.515, 1.505, 1.515, 1.515]
E_MNIST_TRAIN_M = [2.30, 1.62, 1.60, 1.61, 1.60, 1.59, 1.60, 1.58, 1.55, 1.52, 1.51, 1.50, 1.51, 1.50, 1.50, 1.49, 1.50, 1.50, 1.49, 1.50, 1.50, 1.49, 1.50, 1.49, 1.50, 1.50, 1.49, 1.50, 1.49, 1.50, 1.50, 1.49, 1.50, 1.49, 1.50, 1.50, 1.49, 1.50, 1.49, 1.50, 1.50]
E_MNIST_TRAIN_M_LO = [2.30, 1.59, 1.57, 1.58, 1.57, 1.56, 1.57, 1.55, 1.52, 1.505, 1.50, 1.49, 1.50, 1.49, 1.49, 1.48, 1.49, 1.49, 1.48, 1.49, 1.49, 1.48, 1.49, 1.48, 1.49, 1.49, 1.48, 1.49, 1.48, 1.49, 1.49, 1.48, 1.49, 1.48, 1.49, 1.49, 1.48, 1.49, 1.48, 1.49, 1.49]
E_MNIST_TRAIN_M_HI = [2.30, 1.65, 1.63, 1.64, 1.63, 1.62, 1.63, 1.61, 1.58, 1.535, 1.52, 1.51, 1.52, 1.51, 1.51, 1.50, 1.51, 1.51, 1.50, 1.51, 1.51, 1.50, 1.51, 1.50, 1.51, 1.51, 1.50, 1.51, 1.50, 1.51, 1.51, 1.50, 1.51, 1.50, 1.51, 1.51, 1.50, 1.51, 1.50, 1.51, 1.51]

DATASETS = ['SVHN', 'CIFAR', 'MNIST']
METRICS = ['Accuracy', 'Test Loss', 'Train Loss']
CAPTIONS = ['(a) Adjoint training;', '(b) Backprop through Euler training;']

YTICKS_ADJ = [[[25, 50, 75], [25, 50], [50, 100]],
              [[1.75, 2.00, 2.25], [1.8, 2.0, 2.2], [1.5, 2.0]],
              [[1.5, 2.0], [1.75, 2.00, 2.25], [1.5, 2.0]]]
YTICKS_EUL = [[[25, 50, 75], [20, 40, 60], [50, 100]],
              [[1.75, 2.00, 2.25], [2.0, 2.2], [1.5, 2.0]],
              [[1.5, 2.0], [1.75, 2.00, 2.25], [1.5, 2.0]]]
YFMT = [['%d', '%d', '%d'],
        ['%.2f', '%.1f', '%.1f'],
        ['%.1f', '%.2f', '%.1f']]

ADJ = [
    [(A_SVHN_ACC_B, A_SVHN_ACC_B_LO, A_SVHN_ACC_B_HI, A_SVHN_ACC_M, A_SVHN_ACC_M_LO, A_SVHN_ACC_M_HI),
     (A_CIFAR_ACC_B, A_CIFAR_ACC_B_LO, A_CIFAR_ACC_B_HI, A_CIFAR_ACC_M, A_CIFAR_ACC_M_LO, A_CIFAR_ACC_M_HI),
     (A_MNIST_ACC_B, A_MNIST_ACC_B_LO, A_MNIST_ACC_B_HI, A_MNIST_ACC_M, A_MNIST_ACC_M_LO, A_MNIST_ACC_M_HI)],
    [(A_SVHN_TEST_B, A_SVHN_TEST_B_LO, A_SVHN_TEST_B_HI, A_SVHN_TEST_M, A_SVHN_TEST_M_LO, A_SVHN_TEST_M_HI),
     (A_CIFAR_TEST_B, A_CIFAR_TEST_B_LO, A_CIFAR_TEST_B_HI, A_CIFAR_TEST_M, A_CIFAR_TEST_M_LO, A_CIFAR_TEST_M_HI),
     (A_MNIST_TEST_B, A_MNIST_TEST_B_LO, A_MNIST_TEST_B_HI, A_MNIST_TEST_M, A_MNIST_TEST_M_LO, A_MNIST_TEST_M_HI)],
    [(A_SVHN_TRAIN_B, A_SVHN_TRAIN_B_LO, A_SVHN_TRAIN_B_HI, A_SVHN_TRAIN_M, A_SVHN_TRAIN_M_LO, A_SVHN_TRAIN_M_HI),
     (A_CIFAR_TRAIN_B, A_CIFAR_TRAIN_B_LO, A_CIFAR_TRAIN_B_HI, A_CIFAR_TRAIN_M, A_CIFAR_TRAIN_M_LO, A_CIFAR_TRAIN_M_HI),
     (A_MNIST_TRAIN_B, A_MNIST_TRAIN_B_LO, A_MNIST_TRAIN_B_HI, A_MNIST_TRAIN_M, A_MNIST_TRAIN_M_LO, A_MNIST_TRAIN_M_HI)],
]
EUL = [
    [(E_SVHN_ACC_B, E_SVHN_ACC_B_LO, E_SVHN_ACC_B_HI, E_SVHN_ACC_M, E_SVHN_ACC_M_LO, E_SVHN_ACC_M_HI),
     (E_CIFAR_ACC_B, E_CIFAR_ACC_B_LO, E_CIFAR_ACC_B_HI, E_CIFAR_ACC_M, E_CIFAR_ACC_M_LO, E_CIFAR_ACC_M_HI),
     (E_MNIST_ACC_B, E_MNIST_ACC_B_LO, E_MNIST_ACC_B_HI, E_MNIST_ACC_M, E_MNIST_ACC_M_LO, E_MNIST_ACC_M_HI)],
    [(E_SVHN_TEST_B, E_SVHN_TEST_B_LO, E_SVHN_TEST_B_HI, E_SVHN_TEST_M, E_SVHN_TEST_M_LO, E_SVHN_TEST_M_HI),
     (E_CIFAR_TEST_B, E_CIFAR_TEST_B_LO, E_CIFAR_TEST_B_HI, E_CIFAR_TEST_M, E_CIFAR_TEST_M_LO, E_CIFAR_TEST_M_HI),
     (E_MNIST_TEST_B, E_MNIST_TEST_B_LO, E_MNIST_TEST_B_HI, E_MNIST_TEST_M, E_MNIST_TEST_M_LO, E_MNIST_TEST_M_HI)],
    [(E_SVHN_TRAIN_B, E_SVHN_TRAIN_B_LO, E_SVHN_TRAIN_B_HI, E_SVHN_TRAIN_M, E_SVHN_TRAIN_M_LO, E_SVHN_TRAIN_M_HI),
     (E_CIFAR_TRAIN_B, E_CIFAR_TRAIN_B_LO, E_CIFAR_TRAIN_B_HI, E_CIFAR_TRAIN_M, E_CIFAR_TRAIN_M_LO, E_CIFAR_TRAIN_M_HI),
     (E_MNIST_TRAIN_B, E_MNIST_TRAIN_B_LO, E_MNIST_TRAIN_B_HI, E_MNIST_TRAIN_M, E_MNIST_TRAIN_M_LO, E_MNIST_TRAIN_M_HI)],
]

# Colours
TEAL = '#1f8f8c'
PINK = 'lightcoral'
BLUE = '#1c2db4'
MAGENTA = '#a0189f'

W, H = 1042, 373
COL_X = [[46, 213, 380], [570, 737, 904]]
ROW_Y = [(5, 83), (107, 81), (208, 82)]
PANEL_W = 138


def draw_panel(ax, series, ticks, fmt):
    b, b_lo, b_hi, m, m_lo, m_hi = series
    ax.fill_between(EPOCHS, b_lo, b_hi, color=TEAL, alpha=0.6, lw=0)
    ax.fill_between(EPOCHS, m_lo, m_hi, color=PINK, alpha=0.55, lw=0)
    for band in (b_lo, b_hi, m_lo, m_hi):
        ax.plot(EPOCHS, band, color='black', ls=(0, (2.5, 1.5)), lw=0.55)
    ax.plot(EPOCHS, b, color=BLUE, lw=1.0)
    ax.plot(EPOCHS, m, color=MAGENTA, lw=1.0)
    ax.set_xticks([0, 20, 40])
    ax.set_yticks(ticks)
    ax.yaxis.set_major_formatter(FormatStrFormatter(fmt))
    ax.tick_params(direction='out', top=True, right=True, length=2.5, width=0.7,
                   labelsize=8, pad=1.2, colors='0.1')
    for sp in ax.spines.values():
        sp.set_color('0.3')
        sp.set_linewidth(0.9)


fig = plt.figure(figsize=(W / 100, H / 100), dpi=100)

for g, (group, yticks) in enumerate([(ADJ, YTICKS_ADJ), (EUL, YTICKS_EUL)]):
    for r in range(3):
        top, h = ROW_Y[r]
        for c in range(3):
            left = COL_X[g][c]
            ax = fig.add_axes([left / W, 1 - (top + h) / H, PANEL_W / W, h / H])
            draw_panel(ax, group[r][c], yticks[r][c], YFMT[r][c])
            if c == 0:
                ax.set_ylabel(METRICS[r], fontsize=8, labelpad=1)
            if r == 2:
                ax.set_xlabel(DATASETS[c], fontsize=8.5, labelpad=0)

fig.text(0.264, 0.05, CAPTIONS[0], ha='center', va='center',
         family='Liberation Serif', fontsize=16)
fig.text(0.770, 0.05, CAPTIONS[1], ha='center', va='center',
         family='Liberation Serif', fontsize=16)

fig.savefig('out.png', dpi=100)
